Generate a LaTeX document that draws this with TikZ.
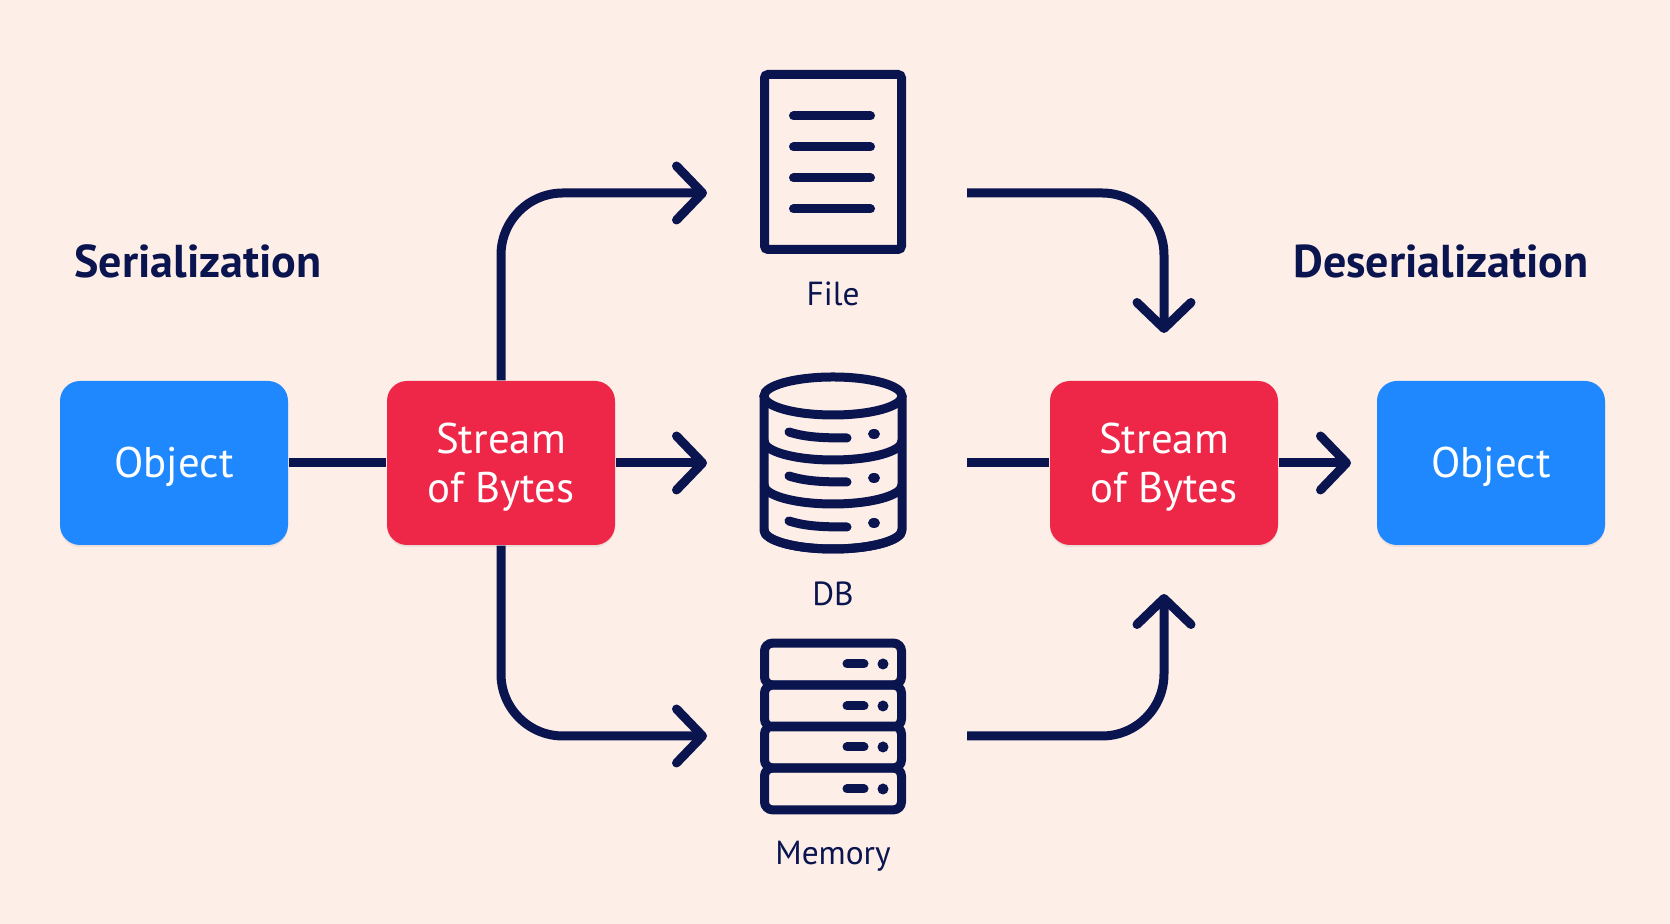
\documentclass[tikz,border=0pt]{standalone}
\usepackage{fontspec}
\setmainfont{PT Sans}
\usepackage{xcolor}
\usetikzlibrary{arrows.meta,shadows}
\definecolor{sbpaper}{RGB}{253,238,232}
\definecolor{sbnavy}{RGB}{10,21,80}
\definecolor{sbblue}{RGB}{32,136,255}
\definecolor{sbred}{RGB}{238,39,72}

\begin{document}
\begin{tikzpicture}[
  box/.style={rounded corners=0.2cm,minimum width=2.28cm,minimum height=1.64cm,
    align=center,text=white,inner sep=0pt,
    font=\fontsize{12.2}{13.9}\selectfont,
    drop shadow={shadow xshift=0cm,shadow yshift=-0.02cm,opacity=0.14}},
  objbox/.style={box,fill=sbblue,text height=0.35cm,text depth=0.05cm},
  bytebox/.style={box,fill=sbred},
  arr/.style={-{Straight Barb[length=0.26cm,width=0.54cm,round]},line width=0.09cm,draw=sbnavy},
  link/.style={line width=0.09cm,draw=sbnavy},
  icon/.style={line width=0.09cm,draw=sbnavy},
  iconbar/.style={line width=0.09cm,draw=sbnavy,line cap=round},
  label/.style={text=sbnavy,font=\fontsize{9.5}{12}\selectfont},
  head/.style={text=sbnavy,font=\fontsize{13.1}{16}\bfseries\selectfont}
]
  \useasboundingbox[fill=sbpaper] (0,0) rectangle (16.70,9.24);

  \node[head] (serhead) at (1.98,6.63) {Serialization};
  \node[head] (deshead) at (14.41,6.63) {Deserialization};

  \node[objbox] (objL) at (1.74,4.61) {Object};
  \node[bytebox] (bytesL) at (5.01,4.61) {\rule{0pt}{0.38cm}Stream\\of Bytes};
  \node[bytebox] (bytesR) at (11.64,4.61) {\rule{0pt}{0.38cm}Stream\\of Bytes};
  \node[objbox] (objR) at (14.91,4.61) {Object};

  % file icon
  \node[icon,draw,rounded corners=1pt,minimum width=1.37cm,minimum height=1.75cm] (file) at (8.33,7.62) {};
  \foreach \y in {8.08,7.77,7.46,7.15}
    \draw[iconbar] (7.935,\y) -- (8.705,\y);
  \node[label] (filetxt) at (8.33,6.30) {File};

  % db icon
  \draw[icon] (8.33,5.28) ellipse [x radius=0.69,y radius=0.19];
  \draw[icon,line join=round] (7.64,5.28) -- (7.64,3.94) arc[start angle=180,end angle=360,x radius=0.69,y radius=0.19] -- (9.02,5.28);
  \foreach \y/\d in {4.83/4.90,4.39/4.46,3.94/4.01}{
    \draw[icon] (7.64,\y) arc[start angle=180,end angle=360,x radius=0.69,y radius=0.19];
    \draw[iconbar] (7.89,\d+0.02) .. controls (8.05,\d-0.03) and (8.2,\d-0.04) .. (8.47,\d-0.04);
    \fill[sbnavy] (8.74,\d) ellipse [x radius=0.06,y radius=0.05];
  }
  \node[label] (dbtxt) at (8.33,3.30) {DB};

  % memory icon
  \foreach \i/\y in {1/2.60,2/2.18,3/1.77,4/1.35}{
    \node[icon,draw,rounded corners=0.08cm,minimum width=1.37cm,minimum height=0.4175cm] (mem\i) at (8.33,\y) {};
    \draw[iconbar] (8.47,\y) -- (8.64,\y);
    \fill[sbnavy] (8.83,\y) circle (0.055);
  }
  \node[label] (memtxt) at (8.33,0.68) {Memory};

  \coordinate (fileIn) at (7.07,7.31);
  \coordinate (dbIn) at (7.07,4.61);
  \coordinate (memIn) at (7.07,1.88);
  \coordinate (fileOut) at (9.67,7.31);
  \coordinate (dbOut) at (9.67,4.61);
  \coordinate (memOut) at (9.67,1.88);
  \coordinate (topTip) at (11.64,5.91);
  \coordinate (botTip) at (11.64,3.30);
  \coordinate (objTip) at (13.51,4.61);

  \draw[link] (objL) -- (bytesL);
  \draw[arr,rounded corners=0.62cm] (bytesL.north) |- (fileIn);
  \draw[arr] (bytesL) -- (dbIn);
  \draw[arr,rounded corners=0.62cm] (bytesL.south) |- (memIn);
  \draw[arr,rounded corners=0.62cm] (fileOut) -| (topTip);
  \draw[link] (dbOut) -- (bytesR);
  \draw[arr,rounded corners=0.62cm] (memOut) -| (botTip);
  \draw[arr] (bytesR) -- (objTip);
\end{tikzpicture}
\end{document}
